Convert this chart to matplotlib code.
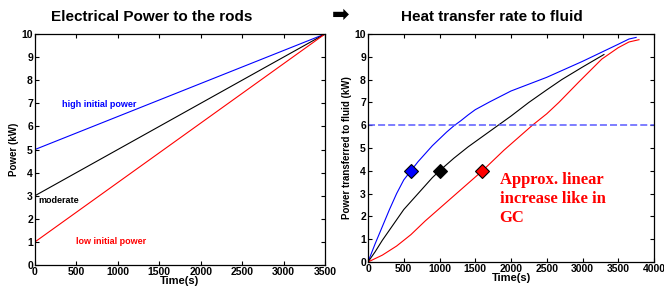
"""
Two-panel rod power / heat transfer chart (MATLAB-style look).
"""
import matplotlib

matplotlib.use("Agg")
import matplotlib.pyplot as plt

# --- data -------------------------------------------------------------
# left panel: electrical power ramps, (time, kW) end points
elec_time = [0, 3500]
elec_high = [5, 10]
elec_moderate = [3, 10]
elec_low = [1, 10]

# right panel: heat transfer rate to fluid
blue_t = [0, 100, 200, 300, 400, 500, 600, 700, 800, 900, 1000, 1100, 1200,
          1300, 1400, 1500, 1700, 2000, 2500, 3000, 3300, 3500, 3650, 3750]
blue_q = [0, 0.8, 1.55, 2.3, 3.0, 3.6, 4.0, 4.4, 4.75, 5.1, 5.4, 5.7, 5.97,
          6.2, 6.45, 6.68, 7.02, 7.5, 8.1, 8.8, 9.25, 9.55, 9.78, 9.85]

black_t = [0, 100, 200, 300, 400, 500, 600, 700, 800, 900, 1000, 1200, 1400,
           1600, 1800, 2000, 2250, 2500, 2710, 3000, 3300]
black_q = [0, 0.45, 0.95, 1.4, 1.85, 2.3, 2.65, 3.0, 3.35, 3.7, 4.0, 4.55,
           5.05, 5.5, 5.95, 6.4, 7.0, 7.55, 8.0, 8.55, 9.1]

red_t = [0, 200, 400, 500, 600, 800, 1000, 1200, 1400, 1600, 1900, 2100,
         2300, 2500, 2670, 2950, 3270, 3500, 3650, 3790]
red_q = [0, 0.3, 0.7, 0.95, 1.2, 1.8, 2.35, 2.9, 3.45, 4.0, 4.9, 5.45,
         6.0, 6.5, 7.0, 7.9, 8.9, 9.4, 9.65, 9.75]

marker_t = [600, 1000, 1600]
marker_q = [4, 4, 4]
marker_colors = ["#0000ff", "#000000", "#ff0000"]

target_level = 6

left_xticks = list(range(0, 3501, 500))
right_xticks = list(range(0, 4001, 500))
yticks = list(range(0, 11))

# --- fonts ------------------------------------------------------------
plt.rcParams["font.family"] = ["Liberation Sans", "DejaVu Sans"]
plt.rcParams["font.weight"] = "bold"

fig = plt.figure(figsize=(6.64, 2.91), dpi=100)
ax1 = fig.add_axes([35 / 664, 1 - 265 / 291, 290 / 664, 231 / 291])
ax2 = fig.add_axes([368 / 664, 1 - 262 / 291, 286 / 664, 228 / 291])


def matlab_axes(ax, xticks, xmax):
    ax.set_xlim(0, xmax)
    ax.set_ylim(0, 10)
    ax.set_xticks(xticks)
    ax.set_yticks(yticks)
    ax.tick_params(direction="in", length=3, width=0.8, top=True, right=True,
                   labelsize=7.5, pad=1.5)
    for lbl in ax.get_xticklabels() + ax.get_yticklabels():
        lbl.set_fontweight("bold")
    for sp in ax.spines.values():
        sp.set_linewidth(0.9)
    ax.set_xlabel("Time(s)", fontsize=8, fontweight="bold", labelpad=-1)


# left panel
ax1.plot(elec_time, elec_high, color="#0000ff", lw=0.8)
ax1.plot(elec_time, elec_moderate, color="#000000", lw=0.8)
ax1.plot(elec_time, elec_low, color="#ff0000", lw=0.8)
matlab_axes(ax1, left_xticks, 3500)
ax1.set_ylabel("Power (kW)", fontsize=7, fontweight="bold", labelpad=2)
ax1.text(320, 6.95, "high initial power", color="#0000ff", fontsize=6.5,
         fontweight="bold", va="center")
ax1.text(40, 2.8, "moderate", color="#000000", fontsize=6.5,
         fontweight="bold", va="center")
ax1.text(500, 1.0, "low initial power", color="#ff0000", fontsize=6.5,
         fontweight="bold", va="center")
fig.text(152 / 664, 1 - 17 / 291, "Electrical Power to the rods",
         fontsize=11, fontweight="bold", ha="center", va="center")

# right panel
ax2.plot(blue_t, blue_q, color="#0000ff", lw=0.8)
ax2.plot(black_t, black_q, color="#000000", lw=0.8)
ax2.plot(red_t, red_q, color="#ff0000", lw=0.8)
# target heat transfer level
ax2.axhline(target_level, color="#5a5aff", lw=1.1, ls=(0, (4.6, 2)))
for t, q, c in zip(marker_t, marker_q, marker_colors):
    ax2.plot(t, q, marker="D", ms=7, mfc=c, mec="black", mew=0.8, ls="none")
matlab_axes(ax2, right_xticks, 4000)
ax2.set_ylabel("Power transferred to fluid (kW)", fontsize=7,
               fontweight="bold", labelpad=2)
ax2.text(1840, 3.95, "Approx. linear\nincrease like in\nGC", color="#ff0000",
         fontsize=12, fontweight="bold", family="Liberation Serif",
         va="top", ha="left", linespacing=1.25)
fig.text(492 / 664, 1 - 17 / 291, "Heat transfer rate to fluid",
         fontsize=11, fontweight="bold", ha="center", va="center")
fig.text(341 / 664, 1 - 15 / 291, "\u27a1", fontsize=15, ha="center",
         va="center", family=["DejaVu Sans"])

fig.savefig("out.png", dpi=100)
